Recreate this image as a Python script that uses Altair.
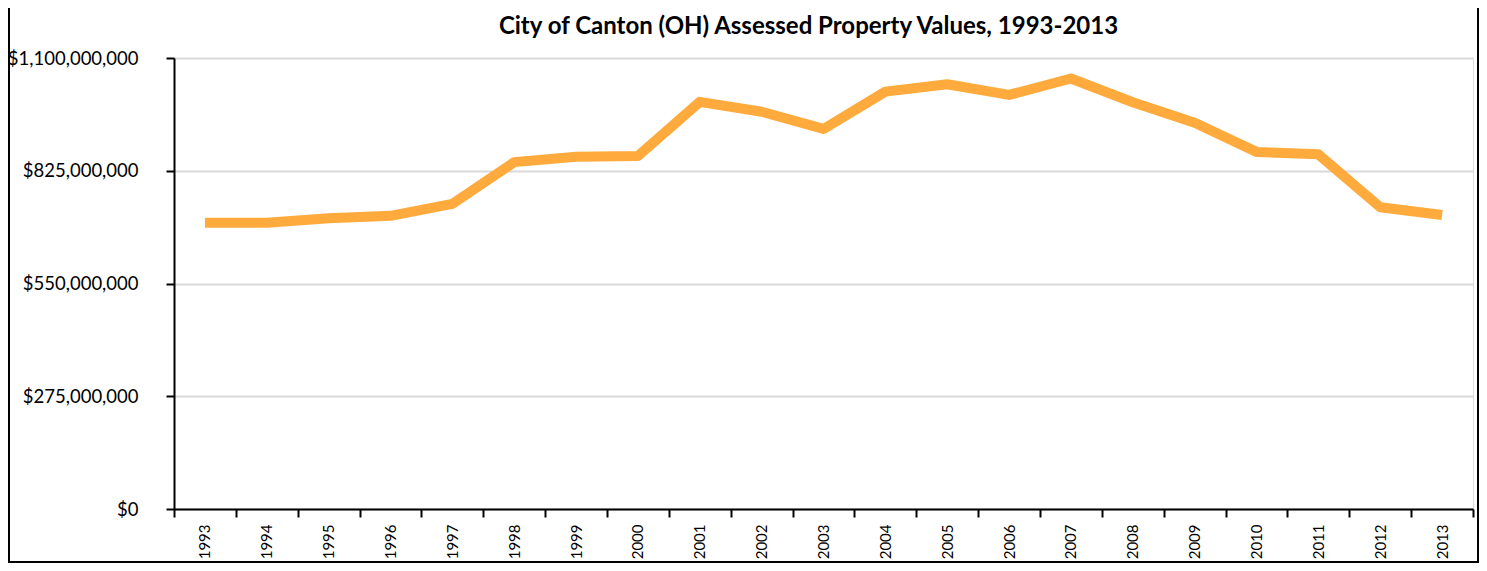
import altair as alt
import pandas as pd

years = [str(y) for y in range(1993, 2014)]
values = [698, 698, 709, 715, 744, 846, 859, 861, 993, 969, 927,
          1018, 1036, 1010, 1050, 992, 942, 871, 865, 736, 717]
values = [v * 1_000_000 for v in values]
y_ticks = [0, 275_000_000, 550_000_000, 825_000_000, 1_100_000_000]

df = pd.DataFrame({"Year": years, "Value": values})

W, H = 1299, 451
FONT = "Lato"

line = alt.Chart(df).mark_line(
    color="#FFAA3C", strokeWidth=10, strokeJoin="round", strokeCap="butt"
).encode(
    x=alt.X("Year:O", sort=years,
            scale=alt.Scale(type="band", paddingInner=0, paddingOuter=0),
            axis=alt.Axis(title=None, labelAngle=-90, tickBand="extent",
                          tickSize=8, tickWidth=2, tickColor="black",
                          domainColor="black", domainWidth=2,
                          labelFontSize=15, labelFont=FONT, labelColor="black",
                          labelPadding=7, grid=False)),
    y=alt.Y("Value:Q",
            scale=alt.Scale(domain=[0, 1_100_000_000], nice=False),
            axis=alt.Axis(title=None, values=y_ticks, format="$,.0f",
                          tickSize=8, tickWidth=2, tickColor="black",
                          domainColor="black", domainWidth=2,
                          labelFontSize=18.5, labelFont=FONT, labelColor="black",
                          labelPadding=28, gridColor="#D9D9D9", gridWidth=2)),
)

frame_left = alt.Chart(df).mark_rule(color="black", strokeWidth=2).encode(
    x=alt.value(-165), y=alt.value(-50), y2=alt.value(H + 54))
frame_right = alt.Chart(df).mark_rule(color="black", strokeWidth=2).encode(
    x=alt.value(W + 5), y=alt.value(-50), y2=alt.value(H + 54))
frame_bottom = alt.Chart(df).mark_rule(color="black", strokeWidth=2).encode(
    x=alt.value(-165), x2=alt.value(W + 5), y=alt.value(H + 53))

chart = alt.layer(line, frame_left, frame_right, frame_bottom).properties(
    width=W, height=H,
    title=alt.TitleParams("City of Canton (OH) Assessed Property Values, 1993-2013",
                          font=FONT, fontSize=24, fontWeight="bold", color="black",
                          anchor="middle", offset=0, baseline="alphabetic", dy=51, dx=-15),
    autosize=alt.AutoSizeParams(type="none"),
    padding={"left": 166, "top": 50, "right": 6, "bottom": 54},
).configure_view(stroke=None).configure(background="white")

chart.save("out.html", embed_options={"renderer": "svg", "actions": False})
